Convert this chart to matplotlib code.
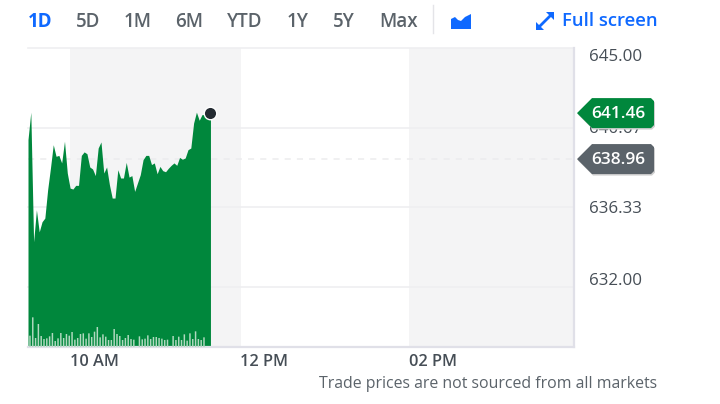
import numpy as np
import matplotlib
matplotlib.use("Agg")
import matplotlib.pyplot as plt
from matplotlib.patches import Polygon
from matplotlib.transforms import IdentityTransform, ScaledTranslation

plt.rcParams['font.family'] = ['Open Sans', 'DejaVu Sans']

prices = [640.02,641.51,634.46,636.20,635.00,635.55,635.75,637.29,638.47,639.74,
          639.11,639.16,638.75,639.93,638.20,637.38,637.33,637.53,637.53,639.16,
          639.35,639.25,638.53,638.42,638.06,639.56,639.89,638.20,638.53,637.57,
          636.84,636.84,638.38,637.93,637.93,638.78,637.98,638.06,637.20,637.66,
          638.11,638.93,639.16,639.16,638.66,638.75,638.16,638.56,638.33,638.27,
          638.46,638.62,638.75,638.62,639.05,638.95,639.02,639.47,639.56,640.92,
          641.51,641.07,641.38,641.38,641.16,641.14]
volumes = [0,34,89,27,69,33,24,26,32,42,18,
           26,42,27,39,34,45,22,27,39,41,
           25,41,30,46,60,29,38,31,21,21,
           54,39,33,21,27,36,24,22,0,32,
           23,25,35,24,30,30,27,25,21,22,
           0,33,21,31,21,38,19,41,24,47,
           24,21,29,0,0]
last_price = 641.46
prev_close = 638.96
y_ticks = [645.00, 640.67, 636.33, 632.00]
y_labels = ["645.00", "640.67", "636.33", "632.00"]
x_ticks = [600, 720, 840]
x_labels = ["10 AM", "12 PM", "02 PM"]
ranges = ["1D", "5D", "1M", "6M", "YTD", "1Y", "5Y", "Max"]
range_x = [28, 76, 124, 175, 227, 287, 333, 379]

W, H = 720, 404
GREEN = "#00873c"; GREY = "#5b636a"; BLUE = "#0f69ff"; TEXT = "#464e56"

fig = plt.figure(figsize=(W/100, H/100), dpi=100, facecolor="white")
L, R, T, B = 28, 574, 48, 347
ax = fig.add_axes([L/W, 1-B/H, (R-L)/W, (B-T)/H])
ax_vol = ax.twinx()

times = 570 + np.arange(len(prices)) * 1.987
ax.set_xlim(570, 956.5)
ax.set_ylim(628.74, 645.0)
for s in ("top", "left"):
    ax.spines[s].set_visible(False)
    ax_vol.spines[s].set_visible(False)
for s in ("right", "bottom"):
    ax.spines[s].set_color("#e0e0e8"); ax.spines[s].set_linewidth(1.6)
    ax_vol.spines[s].set_visible(False)

ax.axvspan(600, 721, color="#f4f4f5", lw=0, zorder=0)
ax.axvspan(840, 960, color="#f4f4f5", lw=0, zorder=0)
for v in y_ticks:
    ax.axhline(v, color="#efeff1", lw=1.2, zorder=1, clip_on=False)
ax.axhline(prev_close, color="#ececee", lw=1.1, ls=(0, (4, 4)), zorder=1)
ax.fill_between(times, prices, 628.74, color=GREEN, lw=0, zorder=2)
ax.plot(times[-1], last_price, "o", ms=9, mfc="#232a31", mec="white", mew=1.0, zorder=6)

ax.yaxis.tick_right()
ax.set_yticks(y_ticks, y_labels, fontsize=12.2, color=TEXT)
ax.tick_params(axis="y", length=0, pad=11)
for lab, va in zip(ax.get_yticklabels(), ["top", "center", "center", "bottom"]):
    lab.set_va(va)
ax.set_xticks(x_ticks, x_labels, fontsize=11.8, color=TEXT, fontweight=600, ha="left")
ax.tick_params(axis="x", length=0, pad=5)

ax_vol.set_ylim(0, 897)
ax_vol.set_yticks([])
bars = ax_vol.bar(times - 0.6, volumes, width=1.05, color="#b0d9bf", lw=0, zorder=3)
for b in bars:
    b.set_snap(False)

def tag(price, color, label):
    yc = ax.transData.transform((0, price))[1]
    xs = [577, 592, 651, 654, 654, 651, 592]
    ys = [0, 15, 15, 12, -12, -15, -15]
    pts_sh = [(x+1, yc+y-1.5) for x, y in zip(xs, ys)]
    pts = [(x, yc+y) for x, y in zip(xs, ys)]
    ax_vol.add_patch(Polygon(pts_sh, closed=True, fc="#cfcfcf", ec="none",
                             transform=IdentityTransform(), clip_on=False, zorder=7))
    ax_vol.add_patch(Polygon(pts, closed=True, fc=color, ec="none",
                             transform=IdentityTransform(), clip_on=False, zorder=8))
    ax_vol.text(591/W, (yc-1)/H, label, transform=fig.transFigure, color="white",
                fontsize=12.4, fontweight=600, va="center", ha="left", zorder=9, clip_on=False)

tag(last_price, GREEN, f"{last_price:.2f}")
tag(prev_close, GREY, f"{prev_close:.2f}")

def px_text(x, y, s, **kw):
    fig.text(x/W, 1-y/H, s, va="center", **kw)

for i, (r, x) in enumerate(zip(ranges, range_x)):
    px_text(x, 22, r, fontsize=13.5, color=BLUE if i == 0 else GREY,
            fontweight="bold" if i == 0 else 600)

fig.add_artist(plt.Line2D([433/W, 433/W], [1-5/H, 1-33/H], color="#e4e4e8", lw=1))
# chart-type icon
fig.add_artist(Polygon([(451/W, 1-19/H), (455/W, 1-17/H), (458/W, 1-20/H), (461/W, 1-21/H),
                        (465/W, 1-17/H), (471/W, 1-14/H), (471/W, 1-29/H), (451/W, 1-29/H)],
                       closed=True, fc=BLUE, ec="none", transform=fig.transFigure))
# full-screen icon
fig.add_artist(plt.Line2D([538/W, 552/W], [1-28/H, 1-14/H], color=BLUE, lw=2))
fig.add_artist(Polygon([(546/W, 1-12/H), (554/W, 1-12/H), (554/W, 1-20/H)], closed=True,
                       fc=BLUE, ec="none", transform=fig.transFigure))
fig.add_artist(Polygon([(536/W, 1-22/H), (536/W, 1-30/H), (544/W, 1-30/H)], closed=True,
                       fc=BLUE, ec="none", transform=fig.transFigure))
px_text(562, 21, "Full screen", fontsize=13.3, color=BLUE, fontweight=600)
px_text(319, 384, "Trade prices are not sourced from all markets", fontsize=11.4, color=GREY)

fig.canvas.draw()
offset = ScaledTranslation(0, -1.5/100, fig.dpi_scale_trans)
for lab in ax.get_yticklabels():
    lab.set_transform(lab.get_transform() + offset)

fig.savefig("out.png", dpi=100, facecolor="white")
